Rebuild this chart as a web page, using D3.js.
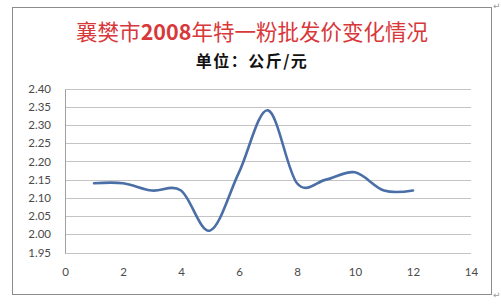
<!DOCTYPE html>
<html>
<head>
<meta charset="utf-8">
<script src="https://cdn.jsdelivr.net/npm/d3@7"></script>
<style>
  body { margin: 0; background: #fff; }
  svg { display: block; }
</style>
</head>
<body>
<svg id="chart" width="501" height="307"></svg>
<script>
const months = [1, 2, 3, 4, 5, 6, 7, 8, 9, 10, 11, 12];
const prices = [2.14, 2.14, 2.12, 2.12, 2.01, 2.17, 2.34, 2.14, 2.15, 2.17, 2.12, 2.12];
const yTicks = [1.95, 2.00, 2.05, 2.10, 2.15, 2.20, 2.25, 2.30, 2.35, 2.40];
const xTicks = [0, 2, 4, 6, 8, 10, 12, 14];
const titleParts = [['襄樊市', false], ['2008', true], ['年特一粉批发价变化情况', false]];
const subtitle = '单位：公斤/元';

const svg = d3.select('#chart');

// outer frame
svg.append('rect')
    .attr('x', 12.5).attr('y', 7.5)
    .attr('width', 479).attr('height', 287)
    .attr('fill', 'none')
    .attr('stroke', '#8c8c8c');

// paragraph marks
svg.append('text').attr('x', 493).attr('y', 9).text('↵')
    .attr('font-size', 9).attr('fill', '#999').attr('font-family', 'DejaVu Sans');
svg.append('text').attr('x', 493).attr('y', 298).text('↵')
    .attr('font-size', 9).attr('fill', '#999').attr('font-family', 'DejaVu Sans');

const x = d3.scaleLinear().domain([0, 14]).range([65, 471]);
const y = d3.scaleLinear().domain([1.95, 2.40]).range([252.5, 88.5]);

// gridlines
svg.append('g')
    .selectAll('line')
    .data(yTicks)
    .enter()
    .append('line')
        .attr('x1', x(0)).attr('x2', x(14))
        .attr('y1', d => Math.round(y(d)) + 0.5)
        .attr('y2', d => Math.round(y(d)) + 0.5)
        .attr('stroke', '#c4c4c4');

// left axis line
svg.append('line')
    .attr('x1', x(0) + 0.5).attr('x2', x(0) + 0.5)
    .attr('y1', Math.round(y(2.40)) + 0.5).attr('y2', Math.round(y(1.95)) + 0.5)
    .attr('stroke', '#a0a0a0');

const yAxis = d3.axisLeft(y).tickValues(yTicks).tickFormat(d3.format('.2f')).tickSize(0).tickPadding(14);
svg.append('g')
    .attr('transform', `translate(${x(0)},0)`)
    .call(yAxis)
    .call(g => g.select('.domain').remove())
    .call(g => g.selectAll('text')
        .attr('font-family', 'Lato, "Liberation Sans", sans-serif')
        .attr('font-size', 11.5)
        .attr('fill', '#4a4a4a'));

const xAxis = d3.axisBottom(x).tickValues(xTicks).tickSize(0).tickPadding(15);
svg.append('g')
    .attr('transform', `translate(0,${y(1.95)})`)
    .call(xAxis)
    .call(g => g.select('.domain').remove())
    .call(g => g.selectAll('text')
        .attr('font-family', 'Lato, "Liberation Sans", sans-serif')
        .attr('font-size', 11.5)
        .attr('fill', '#4a4a4a'));

// price line
const line = d3.line()
    .x((d, i) => x(months[i]))
    .y(d => y(d))
    .curve(d3.curveCatmullRom.alpha(0));

svg.append('path')
    .datum(prices)
    .attr('d', line)
    .attr('fill', 'none')
    .attr('stroke', '#4a6ea6')
    .attr('stroke-width', 2.6)
    .attr('stroke-linecap', 'round');

// titles
const title = svg.append('text')
    .attr('x', 252).attr('y', 40)
    .attr('text-anchor', 'middle')
    .attr('font-family', '"Noto Sans CJK SC", sans-serif')
    .attr('font-size', 21.5)
    .attr('fill', '#d8383a');
title.selectAll('tspan')
    .data(titleParts)
    .enter()
    .append('tspan')
        .attr('font-weight', d => d[1] ? 'bold' : 'normal')
        .text(d => d[0]);

svg.append('text')
    .attr('x', 252).attr('y', 67)
    .attr('text-anchor', 'middle')
    .attr('font-family', '"Noto Sans CJK SC", sans-serif')
    .attr('font-size', 16)
    .attr('font-weight', 'bold')
    .attr('letter-spacing', 1.5)
    .attr('fill', '#111')
    .text(subtitle);
</script>
</body>
</html>
